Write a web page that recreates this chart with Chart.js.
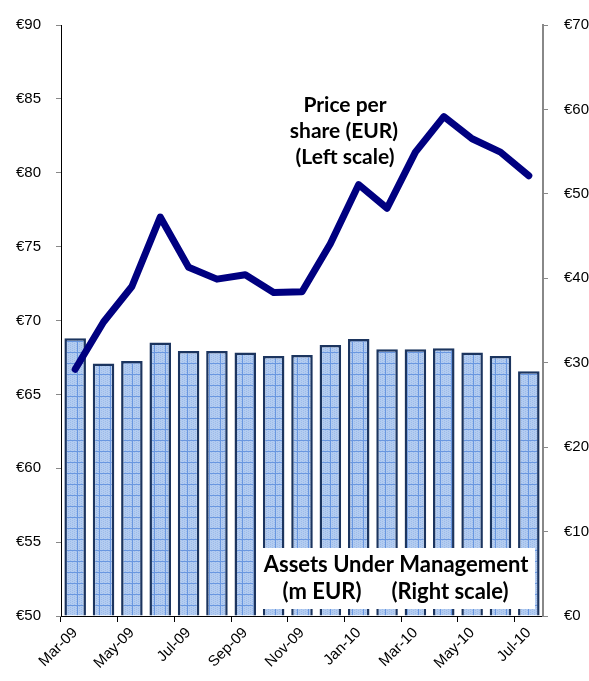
<!DOCTYPE html>
<html>
<head>
<meta charset="utf-8">
<script src="https://cdn.jsdelivr.net/npm/chart.js@4/dist/chart.umd.min.js"></script>
<style>
  body { margin: 0; overflow: hidden; background: #fff; }
</style>
</head>
<body>
<canvas id="aum-chart" width="589" height="681"></canvas>
<script>
// Monthly categories
const months = ['Mar-09', 'Apr-09', 'May-09', 'Jun-09', 'Jul-09', 'Aug-09', 'Sep-09', 'Oct-09', 'Nov-09',
  'Dec-09', 'Jan-10', 'Feb-10', 'Mar-10', 'Apr-10', 'May-10', 'Jun-10', 'Jul-10'];

// Assets under management, m EUR (right scale)
const assets = [32.9, 29.9, 30.2, 32.4, 31.4, 31.4, 31.2, 30.8, 30.9, 32.1, 32.8, 31.6, 31.6, 31.7, 31.2, 30.8, 29.0];

// Price per share, EUR (left scale)
const price = [66.7, 69.9, 72.3, 77.0, 73.6, 72.8, 73.1, 71.9, 71.95, 75.2, 79.2, 77.6, 81.4, 83.8, 82.3, 81.4, 79.8];

// Tick settings
const leftMin = 50, leftMax = 90, leftStep = 5;
const rightMin = 0, rightMax = 70, rightStep = 10;

// Build the grid pattern used for the bars
function makePattern() {
  const pc = document.createElement('canvas');
  pc.width = 11;
  pc.height = 11;
  const p = pc.getContext('2d');
  p.fillStyle = '#b3ccf0';
  p.fillRect(0, 0, 11, 11);
  p.fillStyle = '#9dbbea';
  for (let i = 0; i < 11; i += 2) {
    for (let j = (i / 2) % 2; j < 11; j += 2) p.fillRect(i, j, 1, 1);
  }
  p.fillStyle = '#6997e0';
  p.fillRect(0, 0, 11, 1);
  p.fillRect(0, 0, 1, 11);
  return p.createPattern(pc, 'repeat');
}

const labelFont = { family: 'Liberation Sans, Arial, sans-serif', size: 15 };

// Text boxes drawn over the chart
const notesPlugin = {
  id: 'notes',
  afterDatasetsDraw(chart) {
    const c = chart.ctx;
    c.save();
    c.fillStyle = '#fff';
    c.fillRect(258, 548, 277, 61);
    c.fillStyle = '#000';
    c.textAlign = 'center';
    c.textBaseline = 'middle';
    c.font = 'bold 21px Lato, "Open Sans", sans-serif';
    c.fillText('Price per', 345, 105);
    c.fillText('share (EUR)', 344, 131);
    c.fillText('(Left scale)', 345, 157);
    c.font = 'bold 22px Lato, "Open Sans", sans-serif';
    c.fillText('Assets Under Management', 396, 565);
    c.fillText('(m EUR)', 322, 592);
    c.fillText('(Right scale)', 450, 592);
    c.restore();
  },
};

const ctx = document.getElementById('aum-chart').getContext('2d');
const aumChart = new Chart(ctx, {
  type: 'bar',
  data: {
    labels: months,
    datasets: [
      {
        type: 'line',
        label: 'Price per share (EUR)',
        data: price,
        yAxisID: 'y',
        borderColor: '#000080',
        borderWidth: 7,
        borderCapStyle: 'round',
        borderJoinStyle: 'round',
        pointRadius: 0,
        tension: 0,
        order: 0,
      },
      {
        type: 'bar',
        label: 'Assets Under Management (m EUR)',
        data: assets,
        yAxisID: 'y1',
        backgroundColor: makePattern(),
        borderColor: '#1c355f',
        borderWidth: 2.5,
        barPercentage: 0.76,
        categoryPercentage: 1,
        order: 1,
      },
    ],
  },
  options: {
    responsive: false,
    animation: false,
    layout: { padding: { top: 20, left: 0, right: 0, bottom: 0 } },
    plugins: {
      legend: { display: false },
      tooltip: { enabled: false },
    },
    scales: {
      x: {
        offset: true,
        grid: {
          offset: true,
          drawOnChartArea: false,
          tickLength: 6,
          color: (c) => (c.index % 2 === 0 ? '#000' : 'rgba(0,0,0,0)'),
        },
        border: { color: '#000', width: 1 },
        ticks: {
          autoSkip: false,
          minRotation: 45,
          maxRotation: 45,
          padding: 2,
          color: '#000',
          font: { family: labelFont.family, size: 15 },
          callback: (v, i) => (i % 2 === 0 ? months[i] : ''),
        },
        afterFit: (scale) => { scale.height = 65; },
      },
      y: {
        position: 'left',
        min: leftMin,
        max: leftMax,
        grid: { drawOnChartArea: false, tickLength: 5, color: '#888' },
        border: { color: '#000', width: 1 },
        ticks: {
          stepSize: leftStep,
          padding: 15,
          color: '#000',
          font: labelFont,
          callback: (v) => '€' + v,
        },
        afterFit: (scale) => { scale.width = 61; },
      },
      y1: {
        position: 'right',
        min: rightMin,
        max: rightMax,
        grid: { drawOnChartArea: false, tickLength: 5, color: '#888' },
        border: { color: '#888', width: 2 },
        ticks: {
          stepSize: rightStep,
          padding: 16,
          color: '#000',
          font: labelFont,
          callback: (v) => '€' + v,
        },
        afterFit: (scale) => { scale.width = 46; },
      },
    },
  },
  plugins: [notesPlugin],
});
</script>
</body>
</html>
